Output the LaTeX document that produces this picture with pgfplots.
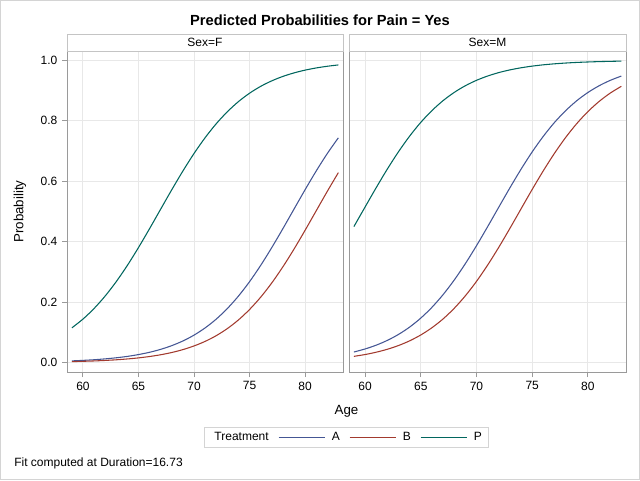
\documentclass[border=0pt]{standalone}
\usepackage{pgfplots}
\pgfplotsset{compat=1.18}
\usepackage{pgfplotstable}
\usepackage{fontspec}
\setmainfont{Liberation Sans}

\definecolor{trtA}{HTML}{445694}
\definecolor{trtB}{HTML}{A23A2E}
\definecolor{trtP}{HTML}{01665E}
\definecolor{gridgray}{HTML}{E8E8E8}
\definecolor{framegray}{HTML}{9A9A9A}
\definecolor{stripgray}{HTML}{C4C4C4}
\definecolor{outergray}{HTML}{D4D4D4}

% predicted probabilities, Duration=16.73
\pgfplotstableread{
age FA FB FP MA MB MP
59 0.0058 0.0034 0.1151 0.0352 0.0208 0.4502
60 0.0075 0.0044 0.1442 0.0452 0.0268 0.5147
61 0.0096 0.0056 0.1792 0.0578 0.0345 0.5788
62 0.0125 0.0073 0.2205 0.0736 0.0442 0.6404
63 0.0161 0.0094 0.2682 0.0933 0.0566 0.6976
64 0.0207 0.0122 0.3219 0.1176 0.0721 0.7493
65 0.0267 0.0157 0.3808 0.1473 0.0915 0.7948
66 0.0343 0.0203 0.4435 0.1829 0.1154 0.8338
67 0.0440 0.0261 0.5080 0.2248 0.1445 0.8667
68 0.0563 0.0336 0.5722 0.2731 0.1796 0.8939
69 0.0717 0.0431 0.6341 0.3274 0.2210 0.9161
70 0.0910 0.0552 0.6919 0.3867 0.2687 0.9340
71 0.1149 0.0703 0.7442 0.4497 0.3226 0.9482
72 0.1439 0.0892 0.7903 0.5142 0.3815 0.9596
73 0.1789 0.1126 0.8300 0.5783 0.4442 0.9685
74 0.2201 0.1412 0.8635 0.6399 0.5087 0.9755
75 0.2677 0.1757 0.8913 0.6972 0.5730 0.9810
76 0.3215 0.2164 0.9140 0.7489 0.6348 0.9853
77 0.3804 0.2635 0.9322 0.7945 0.6925 0.9886
78 0.4430 0.3167 0.9469 0.8335 0.7448 0.9912
79 0.5075 0.3752 0.9585 0.8665 0.7908 0.9932
80 0.5718 0.4376 0.9677 0.8937 0.8305 0.9947
81 0.6337 0.5020 0.9749 0.9159 0.8639 0.9959
82 0.6915 0.5664 0.9805 0.9338 0.8916 0.9968
83 0.7438 0.6286 0.9849 0.9481 0.9142 0.9976
}\pred

\pgfplotsset{
  panel/.style={
    scale only axis, anchor=north west,
    height=240.75pt,
    xmin=58.56, xmax=83.42, ymin=-0.031, ymax=1.031,
    xtick={60,65,...,80}, ytick={0,0.2,0.4,0.6,0.8,1},
    grid=major, grid style={color=gridgray, line width=0.75pt},
    axis line style={color=framegray, line width=0.75pt},
    tick align=outside, major tick length=3.75pt,
    tick style={color=framegray, line width=0.75pt},
    xtick pos=lower, ytick pos=lower,
    ticklabel style={font=\fontsize{9}{11}\selectfont},
    /pgf/number format/assume math mode=true,
    every axis plot/.append style={line width=0.8pt, no markers, smooth},
  },
}

\begin{document}
\begin{tikzpicture}
\useasboundingbox (0,0) rectangle (480pt,-360pt);
\draw[outergray, line width=0.75pt] (0.375pt,-0.375pt) rectangle (479.625pt,-359.625pt);

\begin{axis}[panel, at={(50.25pt,-38.25pt)}, width=207pt,
  yticklabel style={/pgf/number format/.cd, fixed, fixed zerofill, precision=1},
  legend columns=-1,
  legend style={at={(rel axis cs:1.0127,-0.204)}, anchor=center,
    draw=outergray, line width=0.75pt, inner xsep=3pt, inner ysep=1.5pt,
    font=\fontsize{9}{11}\selectfont,
    /tikz/every odd column/.append style={column sep=2.5pt},
    /tikz/every even column/.append style={column sep=5pt}},
  legend image code/.code={\draw[#1] (0pt,0pt) -- (35pt,0pt);},
]
\addlegendimage{empty legend}
\addlegendentry{Treatment\hspace{5pt}}
\addplot[trtA] table[x=age, y=FA] {\pred};
\addlegendentry{A}
\addplot[trtB] table[x=age, y=FB] {\pred};
\addlegendentry{B}
\addplot[trtP] table[x=age, y=FP] {\pred};
\addlegendentry{P}
\end{axis}

\begin{axis}[panel, at={(261.75pt,-38.25pt)}, width=207.75pt,
  yticklabels={}, ytick style={draw=none}]
\addplot[trtA] table[x=age, y=MA] {\pred};
\addplot[trtB] table[x=age, y=MB] {\pred};
\addplot[trtP] table[x=age, y=MP] {\pred};
\end{axis}

% panel headers
\draw[stripgray, line width=0.75pt] (50.25pt,-25.5pt) rectangle (257.25pt,-38.25pt);
\draw[stripgray, line width=0.75pt] (261.75pt,-25.5pt) rectangle (469.5pt,-38.25pt);
\node[font=\fontsize{9}{11}\selectfont] at (153.75pt,-31.9pt) {Sex=F};
\node[font=\fontsize{9}{11}\selectfont] at (365.6pt,-31.9pt) {Sex=M};

\node[font=\fontsize{11}{13}\selectfont\bfseries] at (240pt,-15pt) {Predicted Probabilities for Pain = Yes};
\node[font=\fontsize{10}{12}\selectfont] at (259.9pt,-308.25pt) {Age};
\node[font=\fontsize{10}{12}\selectfont, rotate=90] at (15pt,-158.6pt) {Probability};
\node[font=\fontsize{9}{11}\selectfont, anchor=west, inner sep=0pt] at (10.5pt,-347.25pt) {Fit computed at Duration=16.73};
\end{tikzpicture}
\end{document}
